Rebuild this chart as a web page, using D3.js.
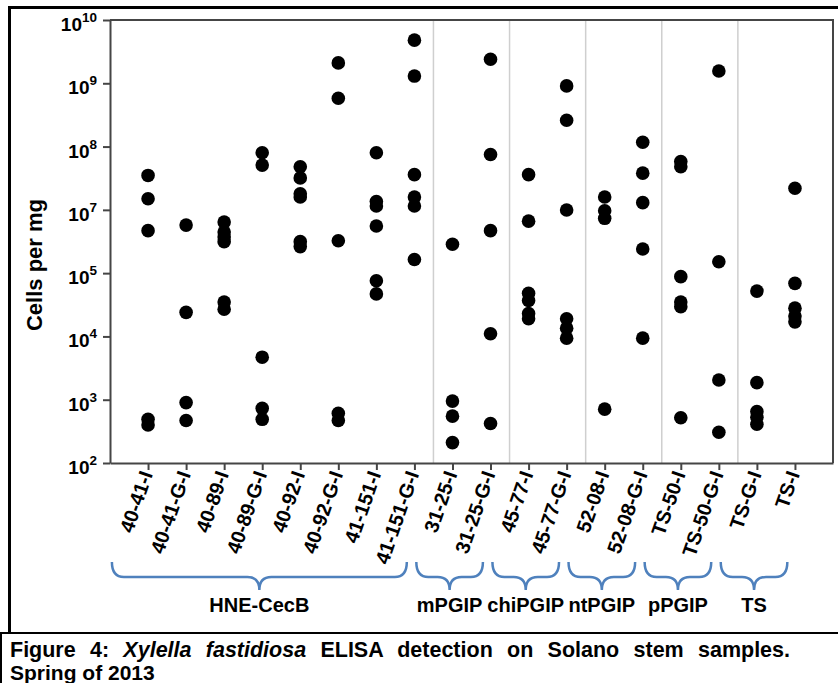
<!DOCTYPE html>
<html>
<head>
<meta charset="utf-8">
<script src="https://cdn.jsdelivr.net/npm/d3@7"></script>
<style>
  html, body { margin: 0; padding: 0; background: #fff; }
  svg { display: block; font-family: Arial, "Liberation Sans", sans-serif; }
</style>
</head>
<body>
<svg id="chart" width="838" height="683"></svg>
<script>
// samples in plotting order
const samples = [
  '40-41-I', '40-41-G-I', '40-89-I', '40-89-G-I', '40-92-I', '40-92-G-I',
  '41-151-I', '41-151-G-I', '31-25-I', '31-25-G-I', '45-77-I', '45-77-G-I',
  '52-08-I', '52-08-G-I', 'TS-50-I', 'TS-50-G-I', 'TS-G-I', 'TS-I'
];

// construct groups (name + number of samples)
const groupNames = ['HNE-CecB', 'mPGIP', 'chiPGIP', 'ntPGIP', 'pPGIP', 'TS'];
const groupSizes = [8, 2, 2, 2, 2, 2];

// axis labels as printed on the figure (note: no 10^6 label)
const yExponents = [10, 9, 8, 7, 5, 4, 3, 2];

// cells per mg, one list per sample (same order as samples)
const cellsPerMg = [
  [3.5e7, 1.5e7, 2.2e6, 490, 400],
  [3.3e6, 2.4e4, 900, 470],
  [4.1e6, 2.0e6, 1.4e6, 9.9e5, 3.5e4, 2.7e4],
  [8.0e7, 5.1e7, 4700, 730, 490],
  [4.8e7, 3.2e7, 1.8e7, 1.6e7, 9.9e5, 6.9e5],
  [2.1e9, 5.8e8, 1.06e6, 610, 470],
  [8.0e7, 1.35e7, 1.15e7, 3.1e6, 7.6e4, 4.7e4],
  [4.8e9, 1.3e9, 3.6e7, 1.6e7, 1.15e7, 2.7e5],
  [8.2e5, 950, 550, 210],
  [2.4e9, 7.5e7, 2.2e6, 1.1e4, 420],
  [3.6e7, 4.4e6, 4.8e4, 3.7e4, 2.3e4, 1.9e4],
  [9.1e8, 2.6e8, 9.9e6, 1.9e4, 1.35e4, 9.4e3],
  [1.6e7, 9.4e6, 5.4e6, 710],
  [1.17e8, 3.8e7, 1.3e7, 5.8e5, 9.4e3],
  [5.8e7, 4.8e7, 8.8e4, 3.5e4, 2.95e4, 520],
  [1.56e9, 2.3e5, 2050, 306],
  [5.2e4, 1860, 650, 530, 410],
  [2.2e7, 6.9e4, 2.8e4, 2.1e4, 1.7e4]
];

const captionLabel = 'Figure 4: ';
const captionItalic = 'Xylella fastidiosa';
const captionRest = ' ELISA detection on Solano stem samples.';
const captionLine2 = 'Spring of 2013';

const svg = d3.select('#chart');
const plot = { left: 110, right: 833, top: 20, bottom: 463 };
const axisColor = '#454545';

const x = d3.scalePoint().domain(samples).range([plot.left, plot.right]).padding(1);
const step = x.step();
// evenly spaced printed ticks, values interpolated between them
const y = d3.scaleLinear()
  .domain(yExponents)
  .range(yExponents.map((d, i) => plot.top + i * (plot.bottom - plot.top) / (yExponents.length - 1)));

// outer figure frame
svg.append('line').attr('x1', 10).attr('x2', 838).attr('y1', 7.5).attr('y2', 7.5)
  .attr('stroke', '#000').attr('stroke-width', 3);
svg.append('line').attr('x1', 9.5).attr('x2', 9.5).attr('y1', 6).attr('y2', 633)
  .attr('stroke', '#000').attr('stroke-width', 3);
svg.append('line').attr('x1', 0).attr('x2', 838).attr('y1', 633).attr('y2', 633)
  .attr('stroke', '#000').attr('stroke-width', 2);
svg.append('line').attr('x1', 1).attr('x2', 1).attr('y1', 633).attr('y2', 683)
  .attr('stroke', '#000').attr('stroke-width', 2);

// group separators
let idx = 0;
const groups = groupNames.map((name, i) => {
  const g = { name, first: samples[idx], last: samples[idx + groupSizes[i] - 1] };
  idx += groupSizes[i];
  return g;
});
groups.slice(0, -1).forEach((g, i) => {
  const sx = (x(g.last) + x(groups[i + 1].first)) / 2;
  svg.append('line').attr('x1', sx).attr('x2', sx)
    .attr('y1', plot.top).attr('y2', plot.bottom)
    .attr('stroke', '#cfcfcf').attr('stroke-width', 1.5);
});

// top and right border of the plot
svg.append('path')
  .attr('d', `M${plot.left},${plot.top}H${plot.right}V${plot.bottom}`)
  .attr('fill', 'none').attr('stroke', axisColor).attr('stroke-width', 2);

// y axis
const yAxis = svg.append('g').attr('transform', `translate(${plot.left},0)`)
  .call(d3.axisLeft(y).tickValues(yExponents).tickSize(7).tickSizeOuter(0).tickFormat(''));
yAxis.select('.domain').attr('stroke', axisColor).attr('stroke-width', 2);
yAxis.selectAll('.tick line').attr('stroke', axisColor).attr('stroke-width', 2);

const yLab = svg.append('g').attr('font-weight', 'bold').attr('fill', '#000');
yExponents.forEach(e => {
  const t = yLab.append('text').attr('x', 97).attr('y', y(e) + 11)
    .attr('text-anchor', 'end').attr('font-size', 19);
  t.append('tspan').text('10');
  t.append('tspan').attr('dy', -9).attr('font-size', 13.5).text(e);
});

svg.append('text')
  .attr('transform', 'translate(42,265) rotate(-90)')
  .attr('text-anchor', 'middle')
  .attr('font-weight', 'bold').attr('font-size', 22)
  .text('Cells per mg');

// x axis
const xAxis = svg.append('g').attr('transform', `translate(0,${plot.bottom})`)
  .call(d3.axisBottom(x).tickSize(7).tickSizeOuter(0).tickFormat(''));
xAxis.select('.domain').attr('stroke', axisColor).attr('stroke-width', 2);
xAxis.selectAll('.tick line').attr('stroke', axisColor).attr('stroke-width', 2);

svg.append('g').selectAll('text').data(samples).join('text')
  .attr('transform', d => `translate(${x(d) + 5},${plot.bottom + 11}) rotate(-71)`)
  .attr('text-anchor', 'end')
  .attr('font-weight', 'bold').attr('font-size', 20)
  .text(d => d);

// group braces and names
const braceTop = 562, braceMid = 577, braceTip = 590, r = 12;
groups.forEach(g => {
  const x0 = x(g.first) - 0.95 * step;
  const x1 = x(g.last) - 0.2 * step;
  const xm = (x0 + x1) / 2;
  svg.append('path')
    .attr('d', `M${x0},${braceTop} Q${x0},${braceMid} ${x0 + r},${braceMid} L${xm - r},${braceMid}` +
      ` Q${xm},${braceMid} ${xm},${braceTip} Q${xm},${braceMid} ${xm + r},${braceMid}` +
      ` L${x1 - r},${braceMid} Q${x1},${braceMid} ${x1},${braceTop}`)
    .attr('fill', 'none').attr('stroke', '#4f81bd').attr('stroke-width', 2.5);
  svg.append('text').attr('x', xm).attr('y', 612)
    .attr('text-anchor', 'middle').attr('font-weight', 'bold').attr('font-size', 20)
    .text(g.name);
});

// points
const dots = samples.flatMap((s, i) => cellsPerMg[i].map(v => ({ s, v })));
svg.append('g').selectAll('circle').data(dots).join('circle')
  .attr('cx', d => x(d.s))
  .attr('cy', d => y(Math.log10(d.v)))
  .attr('r', 6.8)
  .attr('fill', '#000');

// caption (justified first line)
const cap = svg.append('text').attr('x', 10).attr('y', 657)
  .attr('font-weight', 'bold').attr('font-size', 21.5);
cap.append('tspan').text(captionLabel);
cap.append('tspan').attr('font-style', 'italic').text(captionItalic);
cap.append('tspan').text(captionRest);
const spaces = (captionLabel + captionItalic + captionRest).trim().split(' ').length - 1;
const extra = (780 - cap.node().getComputedTextLength()) / spaces;
if (extra > 0) cap.attr('word-spacing', extra);

svg.append('text').attr('x', 10).attr('y', 680)
  .attr('font-weight', 'bold').attr('font-size', 21)
  .text(captionLine2);
</script>
</body>
</html>
